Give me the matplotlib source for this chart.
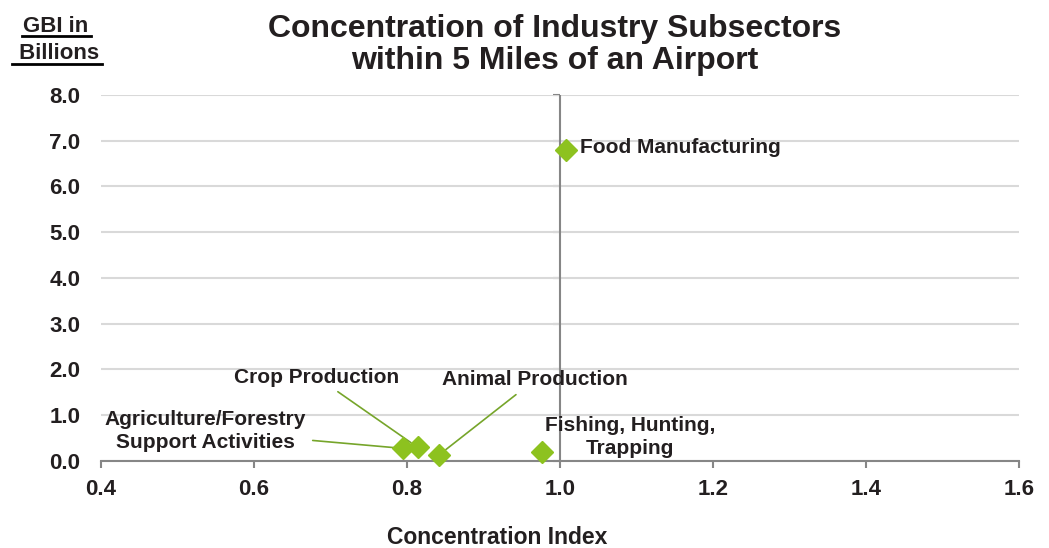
import numpy as np
import matplotlib
matplotlib.use("Agg")
import matplotlib.pyplot as plt
from matplotlib.lines import Line2D

# ---------------------------------------------------------------------------
# Data
# ---------------------------------------------------------------------------
subsectors = ["Food Manufacturing", "Agriculture/Forestry\nSupport Activities",
              "Crop Production", "Animal Production",
              "Fishing, Hunting,\nTrapping"]
conc_index = [1.007, 0.794, 0.814, 0.842, 0.976]
gbi_billions = [6.80, 0.27, 0.29, 0.13, 0.18]

# label positions (data coords) and whether a leader line is drawn
label_pos = [(1.026, 6.86), (0.536, 0.65), (0.682, 1.83), (0.967, 1.77), (1.091, 0.52)]
label_ha = ["left", "center", "center", "center", "center"]
leader = [False, True, True, True, False]

x_ticks = [0.4, 0.6, 0.8, 1.0, 1.2, 1.4, 1.6]
y_ticks = [0, 1, 2, 3, 4, 5, 6, 7, 8]

MARKER_COLOR = "#8DC21F"
LINE_COLOR = "#76A52A"
AXIS_COLOR = "#868686"
GRID_COLOR = "#D9D9D9"
TEXT_COLOR = "#231F20"

plt.rcParams.update({
    "font.family": "Liberation Sans",
    "font.weight": "bold",
    "text.color": TEXT_COLOR,
})

W, H = 1049, 548
fig = plt.figure(figsize=(W / 100, H / 100), dpi=100)
ax = fig.add_axes([0.0963, 0.1593, 0.8754, 0.6673])

ax.set_xlim(0.4, 1.6)
ax.set_ylim(0, 8)
ax.set_xticks(x_ticks)
ax.set_xticklabels([f"{v:.1f}" for v in x_ticks])
ax.set_yticks(y_ticks)
ax.set_yticklabels([f"{v:.1f}" for v in y_ticks])

ax.grid(axis="y", color=GRID_COLOR, lw=1.5)
ax.set_axisbelow(True)
for s in ["top", "right", "left"]:
    ax.spines[s].set_visible(False)
ax.spines["bottom"].set_color(AXIS_COLOR)
ax.spines["bottom"].set_linewidth(1.5)
ax.tick_params(axis="x", direction="out", length=5, width=1.5, color=AXIS_COLOR,
               labelsize=16, pad=8, labelcolor=TEXT_COLOR)
ax.tick_params(axis="y", length=0, labelsize=16, pad=15, labelcolor=TEXT_COLOR)

# vertical axis crossing at x = 1.0
ax.axvline(1.0, color=AXIS_COLOR, lw=1.5, zorder=1)
sec = ax.secondary_yaxis((1.0 - 0.4) / 1.2)
sec.set_yticks(y_ticks)
sec.tick_params(axis="y", direction="in", length=5, width=1.5, color=AXIS_COLOR,
                labelleft=False, labelright=False)
sec.spines["left"].set_visible(False)
sec.spines["right"].set_visible(False)

ax.plot(conc_index, gbi_billions, linestyle="none", marker="D", markersize=11,
        color=MARKER_COLOR, zorder=5, clip_on=False)

for name, x, y, (tx, ty), ha, ld in zip(subsectors, conc_index, gbi_billions,
                                         label_pos, label_ha, leader):
    props = dict(arrowstyle="-", color=LINE_COLOR, lw=1.2, shrinkA=3, shrinkB=6) if ld else None
    ax.annotate(name, xy=(x, y), xytext=(tx, ty), textcoords="data",
                ha=ha, va="center", fontsize=15, fontweight="bold",
                color=TEXT_COLOR, arrowprops=props, linespacing=1.25)

# title, two lines placed on their baselines
fig.text(555 / W, 1 - 37 / H, "Concentration of Industry Subsectors",
         ha="center", va="baseline", fontsize=23, fontweight="bold")
fig.text(555 / W, 1 - 69 / H, "within 5 Miles of an Airport",
         ha="center", va="baseline", fontsize=23, fontweight="bold")
fig.text(497 / W, 1 - 538 / H, "Concentration Index", ha="center", va="center",
         fontsize=16.5, fontweight="bold")

# underlined y-axis title
fig.text(56 / W, 1 - 32 / H, "GBI in", ha="center", va="baseline", fontsize=16, fontweight="bold")
fig.text(56 / W, 1 - 59 / H, " Billions", ha="center", va="baseline", fontsize=16, fontweight="bold")
fig.add_artist(Line2D([22 / W, 91 / W], [1 - 36 / H, 1 - 36 / H], color="black", lw=2))
fig.add_artist(Line2D([12 / W, 102 / W], [1 - 64 / H, 1 - 64 / H], color="black", lw=2))

fig.savefig("out.png", dpi=100)
